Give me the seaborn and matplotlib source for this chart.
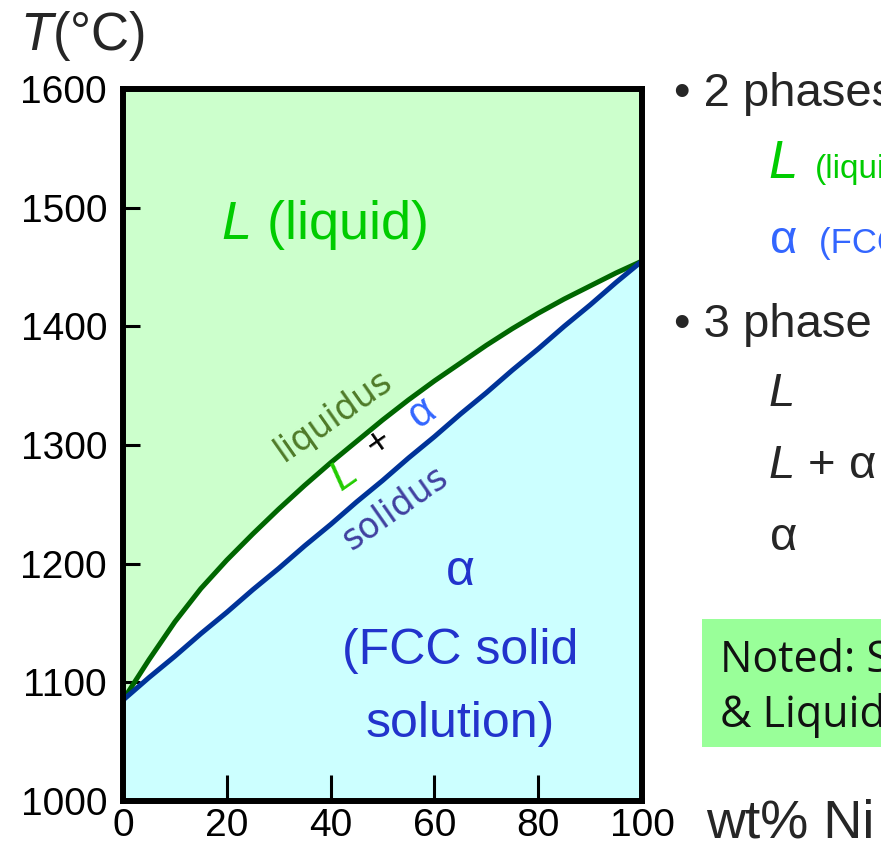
import matplotlib
matplotlib.use("Agg")
import matplotlib.pyplot as plt
import seaborn as sns
from matplotlib.patches import Rectangle

# Cu–Ni binary phase diagram: composition (wt% Ni) and boundary temperatures (°C)
ni_wt = [0, 5, 10, 15, 20, 25, 30, 35, 40, 45, 50,
         55, 60, 65, 70, 75, 80, 85, 90, 95, 100]
liquidus_T = [1085, 1119, 1151, 1179, 1203, 1225, 1246, 1266, 1285, 1303, 1321,
              1338, 1354, 1369, 1384, 1398, 1411, 1423, 1434, 1445, 1455]
solidus_T = [1085, 1104, 1122, 1141, 1159, 1178, 1196, 1215, 1233, 1252, 1270,
             1289, 1307, 1326, 1344, 1363, 1381, 1400, 1418, 1437, 1455]

x_ticks = [0, 20, 40, 60, 80, 100]
y_ticks = [1000, 1100, 1200, 1300, 1400, 1500, 1600]

# colours
LIQ_FILL = "#ccffcc"
SOL_FILL = "#ccffff"
LIQ_LINE = "#006600"
SOL_LINE = "#003399"
GREEN_TXT = "#00cc00"
BLUE_TXT = "#2233cc"
LIGHT_BLUE = "#3366ff"

sns.set_theme(style="white")
plt.rcParams["font.family"] = ["Liberation Sans", "DejaVu Sans"]
plt.rcParams["mathtext.fontset"] = "custom"
plt.rcParams["mathtext.rm"] = "Liberation Sans"
plt.rcParams["mathtext.it"] = "Liberation Sans:italic"

W, H = 881, 844
fig = plt.figure(figsize=(W / 100, H / 100), dpi=100)
fig.patch.set_facecolor("white")


def fx(px):
    return px / W


def fy(py):
    return 1 - py / H


ax = fig.add_axes([fx(123), fy(801), (642 - 123) / W, (801 - 89) / H])
ax.set_facecolor("white")

# phase regions
ax.fill_between(ni_wt, liquidus_T, 1600, color=LIQ_FILL, lw=0, zorder=0)
ax.fill_between(ni_wt, 1000, solidus_T, color=SOL_FILL, lw=0, zorder=0)

# boundaries
sns.lineplot(x=ni_wt, y=liquidus_T, color=LIQ_LINE, lw=3.6, ax=ax,
             clip_on=False, zorder=3, solid_capstyle="butt")
sns.lineplot(x=ni_wt, y=solidus_T, color=SOL_LINE, lw=3.6, ax=ax,
             clip_on=False, zorder=3, solid_capstyle="butt")

ax.set_xlim(0, 100)
ax.set_ylim(1000, 1600)
ax.set_xticks(x_ticks)
ax.set_yticks(y_ticks)
ax.set_xticklabels([str(v) for v in x_ticks])
ax.set_yticklabels([str(v) for v in y_ticks])
ax.set_xlabel("")
ax.set_ylabel("")

for s in ax.spines.values():
    s.set_visible(True)
    s.set_color("black")
    s.set_linewidth(4.3)
    s.set_zorder(5)

ax.tick_params(axis="x", direction="in", length=19, width=2.2, pad=5,
               labelsize=28, colors="black", bottom=True, top=False)
ax.tick_params(axis="y", direction="in", length=12, width=2.2, pad=11.5,
               labelsize=28, colors="black", left=True, right=False)

# region labels
ax.text(38.7, 1473.5, r"$L$ (liquid)", color=GREEN_TXT, fontsize=39,
        ha="center", va="baseline")
ax.text(64.9, 1182, "α", color=BLUE_TXT, fontsize=36, ha="center", va="baseline")
ax.text(64.9, 1115.8, "(FCC solid", color=BLUE_TXT, fontsize=36,
        ha="center", va="baseline")
ax.text(64.9, 1053.9, "solution)", color=BLUE_TXT, fontsize=36,
        ha="center", va="baseline")

# boundary names and the two-phase field
ax.text(40.5, 1325.2, "liquidus", color="#4f7a28", fontsize=25,
        family="DejaVu Sans", rotation=35, rotation_mode="anchor",
        ha="center", va="center")
ax.text(52.4, 1246.8, "solidus", color="#4040a0", fontsize=25,
        family="DejaVu Sans", rotation=35, rotation_mode="anchor",
        ha="center", va="center")
ax.text(42.6, 1273, r"$L$", color="#22cc00", fontsize=30, rotation=35,
        rotation_mode="anchor", ha="center", va="center")
ax.text(49.3, 1301.6, "+", color="black", fontsize=28, rotation=35,
        rotation_mode="anchor", ha="center", va="center")
ax.text(57.6, 1326.9, "α", color=LIGHT_BLUE, fontsize=30, rotation=35,
        rotation_mode="anchor", ha="center", va="center")

# axis titles
fig.text(fx(20), fy(50), r"$T$(°C)", fontsize=38, ha="left", va="baseline")
fig.text(fx(706), fy(838), "wt% Ni", fontsize=39, ha="left", va="baseline")

# side notes
fig.text(fx(674), fy(106), "• 2 phases:", fontsize=34, ha="left", va="baseline")
fig.text(fx(768), fy(178), r"$L$", color=GREEN_TXT, fontsize=38,
         ha="left", va="baseline")
fig.text(fx(815), fy(178), "(liquid)", color=GREEN_TXT, fontsize=24,
         ha="left", va="baseline")
fig.text(fx(770), fy(253), "α", color=LIGHT_BLUE, fontsize=34,
         ha="left", va="baseline")
fig.text(fx(819), fy(253), "(FCC solid solution)", color=LIGHT_BLUE,
         fontsize=25, ha="left", va="baseline")
fig.text(fx(674), fy(337), "• 3 phase fields:", fontsize=34, ha="left",
         va="baseline")
fig.text(fx(768), fy(406), r"$L$", fontsize=34, ha="left", va="baseline")
fig.text(fx(768), fy(478), r"$L$ + α", fontsize=34, ha="left", va="baseline")
fig.text(fx(770), fy(550), "α", fontsize=34, ha="left", va="baseline")

# note box
fig.add_artist(Rectangle((fx(702), fy(747)), (W - 702 + 20) / W, 128 / H,
                         transform=fig.transFigure, facecolor="#99ff99",
                         edgecolor="none", zorder=0))
fig.text(fx(720), fy(672), "Noted: Solidus", fontsize=31, family="Open Sans",
         color="#111111", ha="left", va="baseline")
fig.text(fx(720), fy(727), "& Liquidus lines", fontsize=31, family="Open Sans",
         color="#111111", ha="left", va="baseline")

fig.savefig("out.png", dpi=100)
